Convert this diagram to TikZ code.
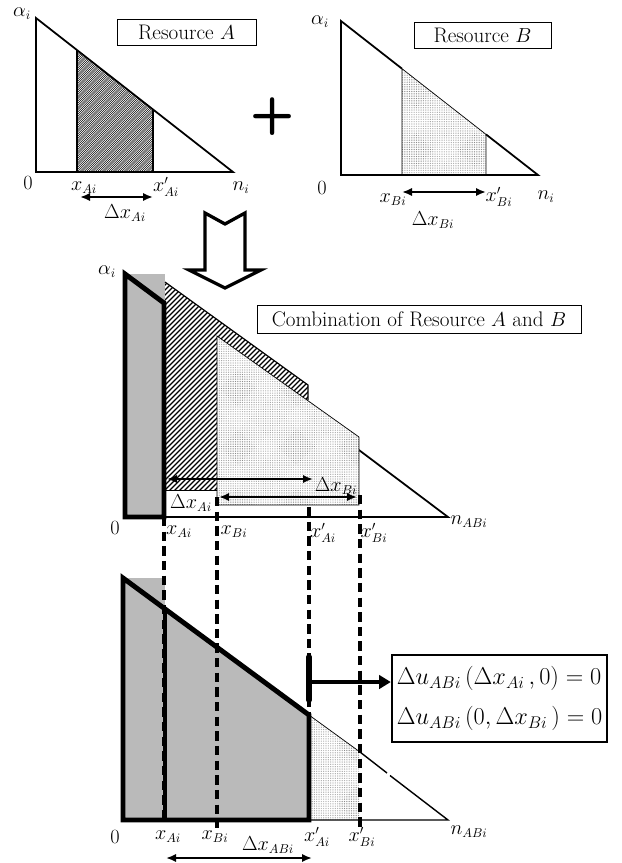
\documentclass[tikz,border=0pt]{standalone}
\usepackage{amsmath,amssymb}
\usepackage{tikz}
\usetikzlibrary{arrows.meta,positioning,calc,patterns.meta}

\begin{document}
\begin{tikzpicture}[x=0.03cm, y=-0.03cm,
    axis/.style={line width=1.5pt, line join=miter},
    edge/.style={line width=0.6pt},
    heavy/.style={line width=4.2pt, line join=miter},
    dimarr/.style={{Latex[length=3mm,width=2.5mm]}-{Latex[length=3mm,width=2.5mm]}, line width=1.9pt},
    guide/.style={line width=2.6pt, dash pattern=on 8pt off 4.5pt},
    lbl/.style={font=\fontsize{16}{18}\selectfont, inner sep=0pt},
    zero/.style={font=\fontsize{18}{20}\selectfont, inner sep=0pt},
    title/.style={draw, line width=0.6pt, inner sep=0pt, font=\fontsize{18}{21}\selectfont},
    dotsB/.style={pattern={Dots[distance=1.5pt,radius=0.28pt]}, pattern color=black!70, preaction={fill=white}},
    shade/.style={fill=black!27}
]
\useasboundingbox (0,0) rectangle (622,863);

    % Resource A
    \begin{scope}
        \clip (77,172) -- (77,50) -- (153,109.5) -- (153,172) -- cycle;
        \foreach \s in {-60,-57.8,...,160} \draw[line width=0.45pt] (\s,175) -- ++(130,-130);
    \end{scope}
    \draw[axis] (77,50) -- (77,172) (153,109.5) -- (153,172);
    \draw[axis] (36,18) -- (36,172) -- (233,172) -- cycle;
    \node[title, minimum width=4.17cm, minimum height=0.78cm] (resA) at (186.5,32) {Resource $A$};
    \node[lbl] (alA) at (22,14) {$\alpha_i$};
    \node[zero] (zA) at (28,183) {$0$};
    \node[lbl] (xA) at (84,188) {$x_{Ai}$};
    \node[lbl] (xpA) at (166,187) {$x'_{Ai}$};
    \node[lbl] (nA) at (241,188) {$n_i$};
    \coordinate (dA1) at (80,197);
    \coordinate (dA2) at (153,197);
    \draw[dimarr] (dA1) -- (dA2);
    \node[lbl] (dxA) at (125,213) {$\Delta x_{Ai}$};

    \node[font=\sffamily\bfseries\fontsize{44}{44}\selectfont, inner sep=0pt] (plus) at (273,117) {+};

    % Resource B
    \fill[dotsB] (402,175) -- (402,68.7) -- (486,134.4) -- (486,175) -- cycle;
    \draw[edge] (402,175) -- (402,68.7) -- (486,134.4) -- (486,175);
    \draw[axis] (402,68.7) -- (341,21) -- (341,175) -- (538,175) -- (486,134.4);
    \node[title, minimum width=4.11cm, minimum height=0.78cm] (resB) at (482.5,35) {Resource $B$};
    \node[lbl] (alB) at (320,22) {$\alpha_i$};
    \node[zero] (zB) at (322,188) {$0$};
    \node[lbl] (xB) at (393,200) {$x_{Bi}$};
    \node[lbl] (xpB) at (499,197) {$x'_{Bi}$};
    \node[lbl] (nB) at (546,197) {$n_i$};
    \coordinate (dB1) at (402,192);
    \coordinate (dB2) at (486,192);
    \draw[dimarr] (dB1) -- (dB2);
    \node[lbl] (dxB) at (433,220) {$\Delta x_{Bi}$};

    % big arrow down
    \draw[line width=2.8pt, line join=miter, fill=white] (205,213) -- (225,224) -- (245,213) -- (245,270)
        -- (261,270) -- (225,288) -- (189,270) -- (205,270) -- cycle;

    % Combination
    \fill[shade] (125,274) rectangle (165,517);
    \draw[axis] (125,274) -- (448,517) -- (125,517);
    \fill[white] (165,490) -- (165,282) -- (308,385) -- (308,490) -- cycle;
    \begin{scope}
        \clip (165,490) -- (165,282) -- (308,385) -- (308,490) -- cycle;
        \foreach \s in {-60,-55,...,320} \draw[line width=1pt] (\s,495) -- ++(220,-220);
    \end{scope}
    \draw[line width=1pt] (165,282) -- (308,385) -- (308,400);
    \draw[edge] (165,490) -- (217,490);
    \fill[dotsB] (217,505) -- (217,336) -- (359,437) -- (359,505) -- cycle;
    \draw[edge] (217,505) -- (217,336) -- (359,437) -- (359,505) -- cycle;
    \draw[heavy] (125,274) -- (164,303) -- (164,517) -- (125,517) -- cycle;
    \node[title, minimum width=9.72cm, minimum height=0.84cm] (comb) at (419,319) {Combination of Resource $A$ and $B$};
    \node[lbl] (alC) at (107,272) {$\alpha_i$};
    \node[zero] (zC) at (115,528) {$0$};
    \node[lbl] (xAC) at (179,532) {$x_{Ai}$};
    \node[lbl] (xBC) at (234,532) {$x_{Bi}$};
    \node[lbl] (xpAC) at (323,533) {$x'_{Ai}$};
    \node[lbl] (xpBC) at (374,533) {$x'_{Bi}$};
    \node[lbl] (nC) at (469,522) {$n_{ABi}$};
    \coordinate (dC1) at (167,479);
    \coordinate (dC2) at (313,479);
    \coordinate (dC3) at (219,497);
    \coordinate (dC4) at (357,497);
    \draw[dimarr] (dC1) -- (dC2);
    \draw[dimarr] (dC3) -- (dC4);
    \node[lbl] (dxAC) at (191,503) {$\Delta x_{Ai}$};
    \node[lbl] (dxBC) at (336,486) {$\Delta x_{Bi}$};

    % Result
    \fill[shade] (123,578) rectangle (165,820);
    \fill[shade] (123,578) -- (309,715) -- (309,820) -- (123,820) -- cycle;
    \fill[dotsB] (309,715) -- (360,752) -- (360,820) -- (309,820) -- cycle;
    \draw[edge] (309,715) -- (360,752);
    \draw[axis, line width=1.2pt] (360,752) -- (387,773) (390,775.5) -- (448,820) -- (309,820);

    % guide lines
    \draw[guide] (164,517) -- (164,820);
    \draw[guide] (217,497) -- (217,828);
    \draw[guide] (309,507) -- (309,715);
    \draw[guide] (360,495) -- (360,828);

    \draw[heavy] (123,578) -- (309,715) -- (309,820) -- (123,820) -- cycle;
    \draw[heavy] (165,608) -- (165,820);
    \draw[line width=4.8pt, line cap=round] (309,657) -- (309,700);
    \node[draw, line width=2pt, minimum width=6.45cm, minimum height=2.61cm, align=left,
        font=\fontsize{21}{34}\selectfont] (eqbox) at (499.5,698.5)
        {$\Delta u_{ABi}\,(\Delta x_{Ai}\,,0)=0$\\$\Delta u_{ABi}\,(0,\Delta x_{Bi}\,)=0$};
    \coordinate (mk) at (309,682);
    \draw[-{Triangle[length=3.5mm,width=4mm]}, line width=3pt] (mk) -- (mk -| eqbox.west);

    \node[zero] (zD) at (115,837) {$0$};
    \node[lbl] (xAD) at (168,837) {$x_{Ai}$};
    \node[lbl] (xBD) at (215,837) {$x_{Bi}$};
    \node[lbl] (xpAD) at (317,837) {$x'_{Ai}$};
    \node[lbl] (xpBD) at (362,837) {$x'_{Bi}$};
    \node[lbl] (nD) at (469,832) {$n_{ABi}$};
    \coordinate (dD1) at (166,858);
    \coordinate (dD2) at (312,858);
    \draw[dimarr] (dD1) -- (dD2);
    \node[lbl] (dxD) at (268,845) {$\Delta x_{ABi}$};
\end{tikzpicture}
\end{document}
